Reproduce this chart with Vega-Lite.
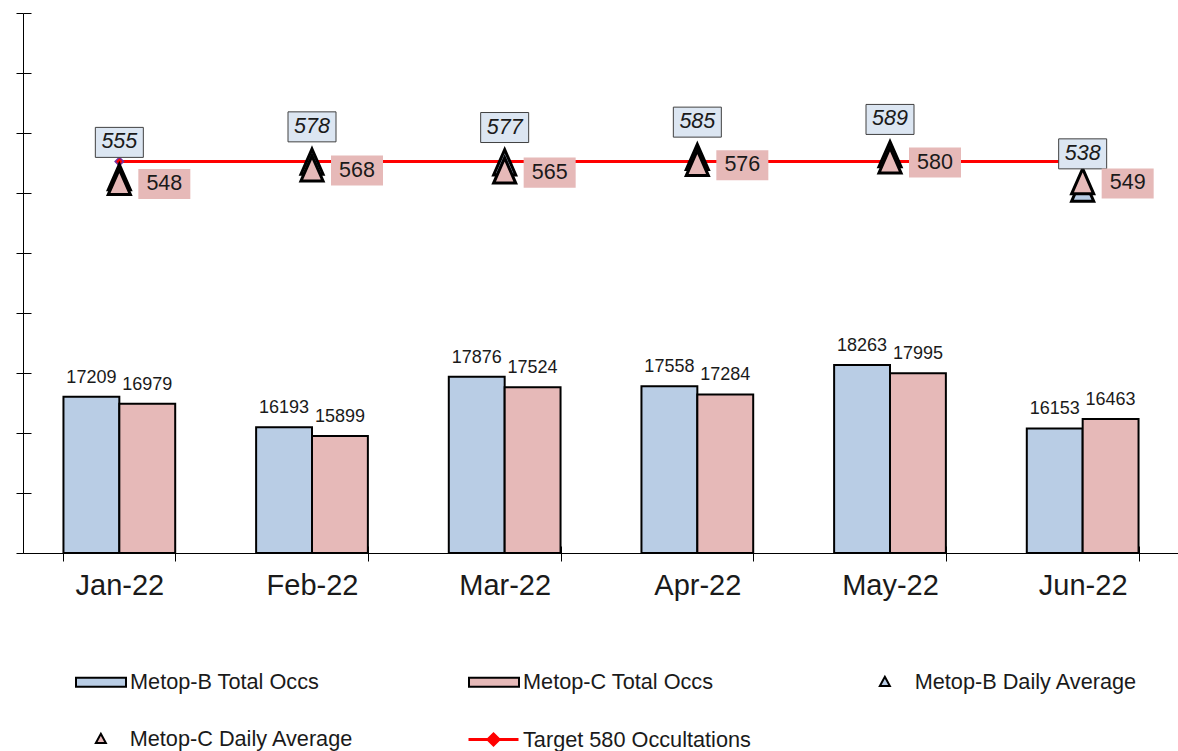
{
  "$schema": "https://vega.github.io/schema/vega-lite/v6.json",
  "width": 1156,
  "height": 540,
  "autosize": {"type": "pad"},
  "padding": {"left": 15, "top": 12, "right": 0, "bottom": 0},
  "config": {
    "font": "Liberation Sans",
    "view": {"stroke": null},
    "text": {"color": "#1a1a1a"},
    "legend": {"labelFontSize": 21.7, "labelColor": "#1a1a1a", "labelLimit": 400, "padding": 0, "title": null}
  },
  "datasets": {
    "bars": [
      {"month": "Jan-22", "series": "Metop-B Total Occs", "value": 17209},
      {"month": "Jan-22", "series": "Metop-C Total Occs", "value": 16979},
      {"month": "Feb-22", "series": "Metop-B Total Occs", "value": 16193},
      {"month": "Feb-22", "series": "Metop-C Total Occs", "value": 15899},
      {"month": "Mar-22", "series": "Metop-B Total Occs", "value": 17876},
      {"month": "Mar-22", "series": "Metop-C Total Occs", "value": 17524},
      {"month": "Apr-22", "series": "Metop-B Total Occs", "value": 17558},
      {"month": "Apr-22", "series": "Metop-C Total Occs", "value": 17284},
      {"month": "May-22", "series": "Metop-B Total Occs", "value": 18263},
      {"month": "May-22", "series": "Metop-C Total Occs", "value": 17995},
      {"month": "Jun-22", "series": "Metop-B Total Occs", "value": 16153},
      {"month": "Jun-22", "series": "Metop-C Total Occs", "value": 16463}
    ],
    "avg": [
      {"month": "Jan-22", "b": 555, "c": 548, "target": 580},
      {"month": "Feb-22", "b": 578, "c": 568, "target": 580},
      {"month": "Mar-22", "b": 577, "c": 565, "target": 580},
      {"month": "Apr-22", "b": 585, "c": 576, "target": 580},
      {"month": "May-22", "b": 589, "c": 580, "target": 580},
      {"month": "Jun-22", "b": 538, "c": 549, "target": 580}
    ]
  },
  "layer": [
    {
      "data": {"name": "bars"},
      "mark": {"type": "bar", "stroke": "black", "strokeWidth": 2},
      "encoding": {
        "x": {
          "field": "month", "type": "nominal", "sort": null,
          "scale": {"paddingInner": 0.42, "paddingOuter": 0.21},
          "axis": {
            "orient": "bottom", "title": null, "labelFontSize": 29, "labelColor": "#1a1a1a", "labelAngle": 0,
            "labelPadding": 10, "tickBand": "extent", "tickSize": 8, "tickColor": "black",
            "domainColor": "black", "domainWidth": 1, "grid": false
          }
        },
        "xOffset": {"field": "series", "type": "nominal", "scale": {"paddingInner": 0, "paddingOuter": 0}},
        "y": {
          "field": "value", "type": "quantitative",
          "scale": {"domain": [12000, 30000], "zero": false, "nice": false},
          "axis": {
            "orient": "left", "title": null, "labels": false, "grid": false,
            "values": [12000, 14000, 16000, 18000, 20000, 22000, 24000, 26000, 28000, 30000],
            "tickSize": 7, "tickColor": "black", "domainColor": "black", "domainWidth": 1
          }
        },
        "y2": {"datum": 12000},
        "fill": {
          "field": "series", "type": "nominal",
          "scale": {
            "domain": ["Metop-B Total Occs", "Metop-C Total Occs"],
            "range": ["#b9cde5", "#e6b9b8"]
          },
          "legend": {
            "orient": "none", "legendX": 52, "legendY": 643,
            "direction": "horizontal", "columnPadding": 145,
            "symbolType": "M-1,-0.18H1V0.18H-1Z", "symbolSize": 2500,
            "symbolStrokeColor": "black", "symbolStrokeWidth": 2, "symbolOpacity": 1,
            "labelOffset": 3
          }
        }
      }
    },
    {
      "data": {"name": "bars"},
      "mark": {"type": "text", "baseline": "alphabetic", "dy": -14, "fontSize": 18, "color": "#1a1a1a"},
      "encoding": {
        "x": {
          "field": "month", "type": "nominal", "sort": null,
          "axis": {
            "orient": "bottom", "title": null, "labels": false, "domain": false, "offset": -7,
            "tickBand": "extent", "tickSize": 7, "tickColor": "black", "grid": false
          }
        },
        "xOffset": {"field": "series", "type": "nominal"},
        "y": {
          "field": "value", "type": "quantitative",
          "scale": {"domain": [12000, 30000], "zero": false, "nice": false},
          "axis": {
            "orient": "left", "title": null, "labels": false, "domain": false, "grid": false, "offset": -8,
            "values": [12000, 14000, 16000, 18000, 20000, 22000, 24000, 26000, 28000, 30000],
            "tickSize": 8, "tickColor": "black"
          }
        },
        "text": {"field": "value", "type": "quantitative", "format": "d"}
      }
    },
    {
      "data": {"name": "avg"},
      "mark": {"type": "line", "strokeWidth": 3},
      "encoding": {
        "x": {"field": "month", "type": "nominal", "sort": null, "axis": null},
        "y": {"field": "target", "type": "quantitative", "scale": {"domain": [0, 800], "nice": false}, "axis": null},
        "stroke": {
          "datum": "Target 580 Occultations", "type": "nominal",
          "scale": {"range": ["#ff0000"]},
          "legend": {
            "orient": "none", "legendX": 444, "legendY": 700,
            "symbolType": "M-1,0H1M0,-0.22L0.22,0L0,0.22L-0.22,0Z", "symbolSize": 2500,
            "symbolStrokeWidth": 3, "symbolFillColor": "#ff0000", "symbolOpacity": 1,
            "labelOffset": 3
          }
        }
      }
    },
    {
      "data": {"name": "avg"},
      "mark": {"type": "point", "shape": "diamond", "filled": true, "size": 70, "fill": "#ff0000", "stroke": "#7030a0", "strokeWidth": 1.5, "opacity": 1},
      "encoding": {
        "x": {"field": "month", "type": "nominal", "sort": null, "axis": null},
        "y": {"field": "target", "type": "quantitative", "scale": {"domain": [0, 800], "nice": false}, "axis": null}
      }
    },
    {
      "data": {"name": "avg"},
      "mark": {"type": "point", "shape": "M0,-1.15L0.92,0.95H-0.92Z", "filled": true, "size": 576, "stroke": "black", "strokeWidth": 3, "opacity": 1},
      "encoding": {
        "x": {"field": "month", "type": "nominal", "sort": null, "axis": null},
        "y": {"field": "b", "type": "quantitative", "scale": {"domain": [0, 800], "nice": false}, "axis": null},
        "fill": {
          "datum": "Metop-B Daily Average", "type": "nominal",
          "scale": {"range": ["#b9cde5"]},
          "legend": {
            "orient": "none", "legendX": 851, "legendY": 658,
            "symbolType": "M0,-1L1,0.85H-1Z", "symbolSize": 100,
            "symbolStrokeColor": "black", "symbolStrokeWidth": 2, "symbolOpacity": 1,
            "labelOffset": 19
          }
        }
      }
    },
    {
      "data": {"name": "avg"},
      "mark": {"type": "point", "shape": "M0,-1.15L0.92,0.95H-0.92Z", "filled": true, "size": 576, "stroke": "black", "strokeWidth": 3, "opacity": 1},
      "encoding": {
        "x": {"field": "month", "type": "nominal", "sort": null, "axis": null},
        "y": {"field": "c", "type": "quantitative", "scale": {"domain": [0, 800], "nice": false}, "axis": null},
        "fill": {
          "datum": "Metop-C Daily Average", "type": "nominal",
          "scale": {"range": ["#e6b9b8"]},
          "legend": {
            "orient": "none", "legendX": 67, "legendY": 715,
            "symbolType": "M0,-1L1,0.85H-1Z", "symbolSize": 100,
            "symbolStrokeColor": "black", "symbolStrokeWidth": 2, "symbolOpacity": 1,
            "labelOffset": 18
          }
        }
      }
    },
    {
      "data": {"name": "avg"},
      "mark": {"type": "point", "shape": "M-1,-0.625H1V0.625H-1Z", "filled": true, "size": 2304, "fill": "#dce6f2", "stroke": "#404040", "strokeWidth": 1, "opacity": 1, "yOffset": -36},
      "encoding": {
        "x": {"field": "month", "type": "nominal", "sort": null, "axis": null},
        "y": {"field": "b", "type": "quantitative", "scale": {"domain": [0, 800], "nice": false}, "axis": null}
      }
    },
    {
      "data": {"name": "avg"},
      "mark": {"type": "text", "fontSize": 21.5, "fontStyle": "italic", "baseline": "middle", "align": "center", "yOffset": -36, "color": "#1a1a1a"},
      "encoding": {
        "x": {"field": "month", "type": "nominal", "sort": null, "axis": null},
        "y": {"field": "b", "type": "quantitative", "scale": {"domain": [0, 800], "nice": false}, "axis": null},
        "text": {"field": "b", "type": "quantitative"}
      }
    },
    {
      "data": {"name": "avg"},
      "mark": {"type": "point", "shape": "M-1,-0.577H1V0.577H-1Z", "filled": true, "size": 2704, "fill": "#e6b9b8", "strokeWidth": 0, "opacity": 1, "xOffset": 45, "yOffset": 1},
      "encoding": {
        "x": {"field": "month", "type": "nominal", "sort": null, "axis": null},
        "y": {"field": "c", "type": "quantitative", "scale": {"domain": [0, 800], "nice": false}, "axis": null}
      }
    },
    {
      "data": {"name": "avg"},
      "mark": {"type": "text", "fontSize": 21.5, "baseline": "middle", "align": "center", "xOffset": 45, "yOffset": 1, "color": "#1a1a1a"},
      "encoding": {
        "x": {"field": "month", "type": "nominal", "sort": null, "axis": null},
        "y": {"field": "c", "type": "quantitative", "scale": {"domain": [0, 800], "nice": false}, "axis": null},
        "text": {"field": "c", "type": "quantitative"}
      }
    }
  ],
  "resolve": {
    "scale": {"y": "independent", "fill": "independent"},
    "axis": {"x": "independent"}
  }
}
